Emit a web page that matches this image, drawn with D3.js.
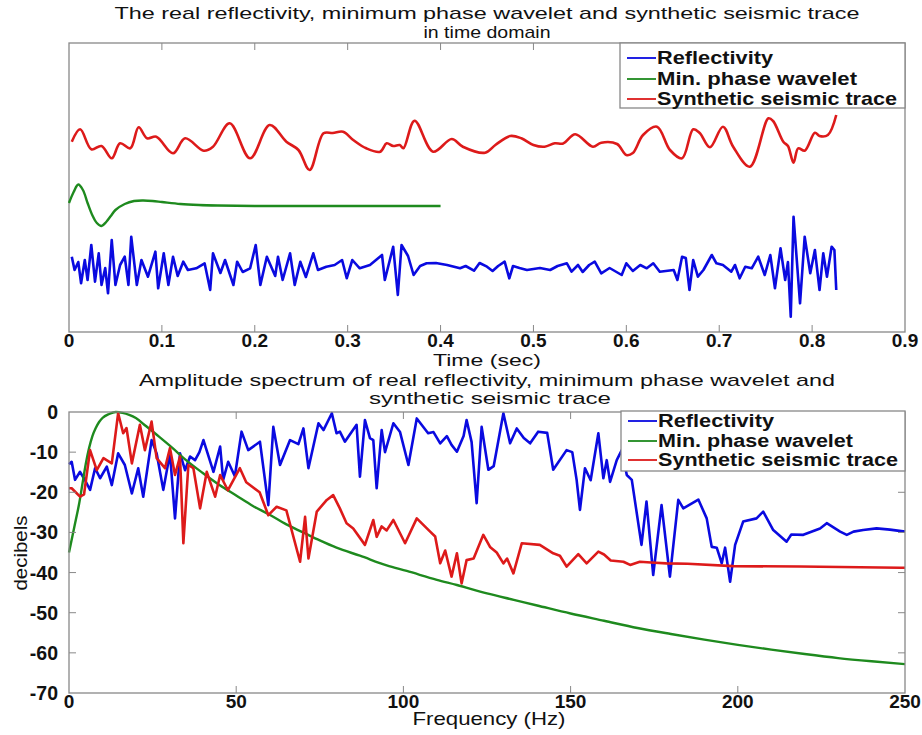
<!DOCTYPE html>
<html><head><meta charset="utf-8">
<script src="https://cdn.jsdelivr.net/npm/d3@7"></script>
<style>body{margin:0;background:#fff}svg{display:block}text{font-family:"Liberation Sans",Arial,sans-serif;fill:#111}</style>
</head><body><svg id="c" width="922" height="735"></svg>
<script>
// ---------- DATA ----------
const timeTicks = [0,0.1,0.2,0.3,0.4,0.5,0.6,0.7,0.8,0.9];
const freqTicks = [0,50,100,150,200,250];
const dbTicks = [0,-10,-20,-30,-40,-50,-60,-70];
const seriesNames = ["Reflectivity","Min. phase wavelet","Synthetic seismic trace"];
const seriesColors = ["#0a0ae0","#1e8a1e","#dd1a1a"];
// trace offsets (display shift of each trace in top panel)
const reflOffset = 6.6, waveletOffset = 12.6, synthOffset = 19.0;
// time-domain reflectivity [t, amplitude]
const reflTime = [[0.003,0.93],[0.006,-0.4],[0.010,0.4],[0.013,-1.73],[0.017,0.6],[0.020,-1.4],[0.024,2.1],[0.028,-1.57],[0.032,1.27],[0.035,-1.9],[0.039,-0.2],[0.042,-2.73],[0.046,2.6],[0.050,-1.9],[0.055,0.1],[0.060,0.93],[0.064,-1.9],[0.067,2.93],[0.073,-1.9],[0.078,0.6],[0.085,-1.07],[0.093,1.43],[0.096,-2.23],[0.102,1.27],[0.107,-1.9],[0.112,0.93],[0.117,-1.0],[0.123,0.43],[0.128,-0.4],[0.137,-0.23],[0.146,0.27],[0.152,-2.4],[0.155,1.27],[0.163,-0.7],[0.168,0.6],[0.177,-1.9],[0.181,0.43],[0.187,-0.6],[0.195,-0.23],[0.201,2.1],[0.206,-1.9],[0.213,0.93],[0.222,-1.0],[0.225,0.93],[0.230,-1.4],[0.238,1.27],[0.243,-1.9],[0.249,0.43],[0.255,-1.1],[0.263,1.27],[0.268,-0.4],[0.277,-0.07],[0.286,0.1],[0.294,0.6],[0.299,-1.23],[0.305,0.6],[0.313,-0.23],[0.324,0.1],[0.337,1.1],[0.340,-1.4],[0.349,1.93],[0.354,-2.9],[0.358,2.1],[0.365,1.0],[0.371,-0.9],[0.378,0.0],[0.385,0.27],[0.395,0.3],[0.407,0.1],[0.421,-0.23],[0.427,0],[0.436,-0.47],[0.442,0.3],[0.450,-0.07],[0.456,-0.5],[0.462,0],[0.469,0.43],[0.474,-1.23],[0.478,0],[0.485,-0.2],[0.493,-0.4],[0.507,-0.2],[0.518,-0.4],[0.526,0],[0.536,0.27],[0.541,-0.57],[0.548,0.1],[0.553,-0.6],[0.560,0.1],[0.566,0.43],[0.573,-0.73],[0.582,-0.2],[0.595,-0.9],[0.600,0.27],[0.607,-0.5],[0.615,0.1],[0.622,-0.23],[0.629,0.27],[0.636,-0.57],[0.651,-0.4],[0.655,-1.4],[0.660,0.93],[0.664,0.8],[0.668,-2.4],[0.672,0.6],[0.677,-1.07],[0.683,-0.4],[0.692,1.1],[0.697,0.27],[0.704,0.1],[0.713,-0.57],[0.717,0.1],[0.722,-1.23],[0.728,-0.07],[0.735,-0.23],[0.742,0.93],[0.749,-0.9],[0.755,1.1],[0.760,-2.23],[0.766,1.77],[0.771,-1.4],[0.774,0.4],[0.777,-5.07],[0.780,4.93],[0.787,-3.73],[0.792,2.93],[0.798,-0.73],[0.803,1.6],[0.808,-2.4],[0.812,1.27],[0.816,-1.07],[0.821,1.93],[0.824,1.6],[0.826,-2.4]];
// time-domain minimum phase wavelet [t, amplitude]
const waveletTime = [[0,0.3],[0.005,1.4],[0.01,2.15],[0.015,1.6],[0.02,0.3],[0.025,-0.9],[0.03,-1.7],[0.035,-2.0],[0.04,-1.6],[0.045,-1.0],[0.05,-0.4],[0.06,0.2],[0.07,0.5],[0.08,0.55],[0.09,0.5],[0.1,0.4],[0.12,0.2],[0.14,0.1],[0.16,0.05],[0.2,0],[0.3,0],[0.4,0]];
// time-domain synthetic trace [t, amplitude]
const synthTime = [[0.003,0.03],[0.012,1.27],[0.024,-0.73],[0.035,-0.4],[0.046,-1.63],[0.055,-0.13],[0.066,-0.63],[0.075,1.47],[0.084,0.37],[0.094,0.53],[0.112,-1.13],[0.125,0.37],[0.145,-0.87],[0.155,-0.47],[0.173,1.87],[0.195,-1.63],[0.216,1.7],[0.234,0.03],[0.247,-0.8],[0.259,-2.8],[0.274,0.87],[0.284,0.9],[0.295,1.03],[0.306,0.2],[0.320,-0.63],[0.335,-0.97],[0.342,-0.13],[0.349,-0.4],[0.356,-0.3],[0.360,-0.63],[0.372,2.13],[0.392,-0.97],[0.412,0.3],[0.424,-0.47],[0.448,-1.07],[0.459,-0.3],[0.475,0.6],[0.487,0.37],[0.500,-0.3],[0.512,-0.47],[0.523,-0.13],[0.532,-0.15],[0.545,0.77],[0.564,-0.47],[0.573,-0.07],[0.590,-0.2],[0.600,-1.3],[0.607,-1.1],[0.618,0.7],[0.633,1.53],[0.647,-0.8],[0.660,-1.63],[0.672,1.27],[0.679,0.9],[0.690,-0.53],[0.704,1.53],[0.715,-0.47],[0.733,-2.47],[0.753,2.37],[0.758,2.1],[0.769,0.03],[0.774,-0.4],[0.780,-2.07],[0.785,-0.63],[0.792,-0.87],[0.803,0.93],[0.808,0.6],[0.817,0.7],[0.826,2.7]];
// amplitude spectra [Hz, dB]
const reflSpec = [[0,-13],[0.8,-12.4],[1.8,-16.9],[3.3,-14.9],[4.8,-17],[6.3,-19.4],[7.8,-14],[9.3,-16.5],[11.3,-13.6],[12.8,-18.2],[14.7,-10.3],[16.7,-13.2],[18.8,-20.3],[20.7,-14],[22.2,-21.1],[24.7,-7],[26.2,-10.3],[28.2,-19.4],[30.2,-10.3],[31.7,-26.5],[33.2,-10.3],[34.7,-14.5],[36.2,-11.1],[37.7,-12],[39,-10],[40.2,-7],[43.2,-14.9],[45.2,-8.6],[46.1,-16.9],[47.6,-12.4],[49.6,-16],[51.6,-4.9],[53.6,-9.5],[57.1,-7.4],[59.6,-23.2],[61.1,-3.7],[63.1,-13.2],[66.1,-7],[68.6,-8],[70.1,-4.1],[71.6,-14],[74.6,-2.8],[76.1,-4.5],[78.6,-0.3],[80,-5.3],[81,-4.9],[82.5,-7.4],[86,-3.2],[87,-16.1],[88.5,-2],[90,-6.5],[91,-7],[92,-19],[93.5,-4.5],[94.5,-10],[97,-2.8],[99,-5],[101.5,-13.2],[104,-1.6],[107.4,-5.3],[109,-5],[111,-7.8],[113,-6],[114.4,-8.2],[116,-9.9],[118,-6],[118.9,-2],[120.4,-7.5],[121.9,-22.7],[123.4,-3.7],[125.4,-14.4],[127,-13.5],[129.9,-0.3],[131.9,-7.8],[133.9,-4.1],[136,-6.5],[137.9,-7.8],[140.3,-4.9],[143,-5.2],[144.8,-14.4],[148.8,-9.5],[150.5,-10],[151.8,-16.9],[152.8,-24.4],[154.3,-14],[156,-17],[158.3,-5.3],[159.8,-16.5],[160.8,-12],[161.8,-17.4],[163.8,-12],[165.3,-9.5],[166.8,-15.7],[168.3,-16.9],[171.2,-33.1],[172.7,-22.3],[174.7,-40.6],[177.2,-23.2],[179.7,-41],[182.2,-21.9],[183.7,-24],[188.2,-21.8],[190.7,-26.5],[192.2,-33.6],[193.7,-33.8],[195.2,-37.7],[196.2,-33.8],[197.7,-42.3],[199.2,-33.1],[201.6,-27.3],[205.6,-26.5],[207.6,-24.8],[210.6,-29.4],[214.6,-32.3],[216,-30.5],[219.6,-30.6],[224.6,-29],[226.6,-27.7],[230.6,-29.8],[232.6,-30.6],[234.6,-29.8],[237.5,-29.4],[241.5,-29],[245.5,-29.3],[250,-29.8]];
const waveletSpec = [[0,-35],[1,-31],[2,-27],[3,-23],[4,-18],[5,-13],[6,-9],[7,-6],[8,-4],[9,-2.5],[10,-1.5],[12,-0.5],[14,0],[16,-0.2],[18,-0.7],[20,-1.5],[23,-3.5],[27,-6.2],[31,-9],[35,-12],[40,-15.2],[45,-18.2],[50,-20.8],[55,-23.4],[60,-25.6],[65,-28],[70,-30],[75,-32],[80,-33.8],[87,-35.8],[95,-38.2],[101,-39.6],[110,-41.8],[116,-43.1],[125,-45.2],[133,-46.8],[140,-48.2],[150,-50.2],[160,-52],[170,-53.8],[180,-55.3],[190,-56.7],[200,-58],[210,-59.2],[220,-60.3],[230,-61.3],[240,-62.1],[250,-62.8]];
const synthSpec = [[0,-19],[0.8,-19],[3.3,-21.1],[4.5,-20.5],[6.3,-9.5],[8.3,-14.5],[10.3,-11.5],[12.8,-12.8],[14.7,-0.3],[16.2,-5.3],[17.2,-4],[18.8,-12.8],[21.2,-3.2],[22.7,-9.5],[24.7,-2.4],[26.2,-11.5],[28.7,-14],[30.2,-9],[31.7,-15.7],[33.2,-11.1],[34.2,-32.7],[35.7,-13.2],[37.2,-14],[39.2,-24],[41.2,-14.9],[43.7,-21.1],[45.2,-15.7],[47.5,-19.5],[51.1,-14],[53,-17.5],[57,-20],[59.6,-25.7],[62.1,-23.6],[65,-24.5],[69.1,-37.3],[70.6,-26.1],[71.6,-36.5],[74.1,-24.8],[77.1,-21.9],[79,-20.7],[81,-24],[83,-27.7],[85,-29],[88.5,-33.1],[91,-26.9],[92,-31.1],[93.5,-28.5],[95,-29.5],[97,-26.9],[100.5,-32.7],[104,-26.5],[108,-29.8],[109.5,-31],[111,-37.7],[112.5,-34.5],[114.4,-41],[116,-35.2],[117.4,-42.7],[118.9,-36.9],[121,-36.5],[123.9,-30.6],[125.9,-33.6],[127.9,-35],[129.9,-37.7],[131,-36.5],[132.9,-40.2],[135.4,-32.7],[140.8,-33.1],[144.8,-35.2],[146.8,-35.8],[148.8,-38.5],[152.3,-35.4],[154.8,-37.7],[158.3,-34.8],[160,-35.5],[162,-37],[165.8,-37.3],[167.8,-38.1],[170.7,-37.3],[174,-37.5],[178.7,-37.7],[185,-37.8],[198.6,-38.4],[218.6,-38.5],[248.5,-38.8],[250,-38.8]];

// ---------- DRAW ----------
const svg = d3.select("#c");
const L = 69, R = 905;
const axisColor = "#888";

const xT = d3.scaleLinear().domain([0,0.9]).range([L,R]);
const yT = d3.scaleLinear().domain([0,28.9]).range([332,43]);
const xF = d3.scaleLinear().domain([0,250]).range([L,R]);
const yF = d3.scaleLinear().domain([-70,0]).range([693,412]);

function txt(x, y, s, size, opts = {}) {
  const t = svg.append("text").attr("x",x).attr("y",y).style("font-size",size+"px")
    .style("font-weight", opts.weight || "bold").text(s);
  if (opts.anchor) t.attr("text-anchor",opts.anchor);
  if (opts.width) t.attr("textLength",opts.width).attr("lengthAdjust","spacingAndGlyphs");
  if (opts.transform) t.attr("transform",opts.transform);
  return t;
}

function frame(x, y, xt, yt, fmtX, fmtY) {
  const g = svg.append("g");
  const [y0,y1] = y.range();
  g.append("rect").attr("x",L).attr("y",y1).attr("width",R-L).attr("height",y0-y1)
    .attr("fill","none").attr("stroke",axisColor).attr("stroke-width",1.3);
  const tl = 7;
  xt.forEach(v => {
    const px = x(v);
    if (v !== x.domain()[0] && v !== x.domain()[1]) {
      g.append("line").attr("x1",px).attr("x2",px).attr("y1",y0).attr("y2",y0-tl).attr("stroke",axisColor);
      g.append("line").attr("x1",px).attr("x2",px).attr("y1",y1).attr("y2",y1+tl).attr("stroke",axisColor);
    }
    txt(px, y0+14.5, fmtX(v), 19, {anchor:"middle"});
  });
  if (yt) yt.forEach(v => {
    const py = y(v);
    if (v !== y.domain()[0] && v !== y.domain()[1]) {
      g.append("line").attr("x1",L).attr("x2",L+tl).attr("y1",py).attr("y2",py).attr("stroke",axisColor);
      g.append("line").attr("x1",R).attr("x2",R-tl).attr("y1",py).attr("y2",py).attr("stroke",axisColor);
    }
    txt(L-11, py+7, fmtY(v), 19.5, {anchor:"end"});
  });
}

function legend(x0, y0, w, h, rows, widths, size) {
  const g = svg.append("g");
  g.append("rect").attr("x",x0).attr("y",y0).attr("width",w).attr("height",h)
    .attr("fill","#fff").attr("stroke",axisColor).attr("stroke-width",1.3);
  rows.forEach((ry,i) => {
    g.append("line").attr("x1",x0+7).attr("x2",x0+36).attr("y1",ry).attr("y2",ry)
      .attr("stroke",seriesColors[i]).attr("stroke-width",1.8);
    txt(x0+37, ry+6, seriesNames[i], size, {width: widths[i]});
  });
}

// ---- top panel ----
frame(xT, yT, timeTicks, null, d => d3.format("")(d), null);
const lineT = (off) => d3.line().x(d => xT(d[0])).y(d => yT(d[1]+off));
svg.append("path").datum(reflTime).attr("d", lineT(reflOffset).curve(d3.curveLinear))
  .attr("fill","none").attr("stroke",seriesColors[0]).attr("stroke-width",2.6).attr("stroke-linejoin","round");
svg.append("path").datum(waveletTime).attr("d", lineT(waveletOffset).curve(d3.curveCatmullRom))
  .attr("fill","none").attr("stroke",seriesColors[1]).attr("stroke-width",2.4);
svg.append("path").datum(synthTime).attr("d", lineT(synthOffset).curve(d3.curveCatmullRom))
  .attr("fill","none").attr("stroke",seriesColors[2]).attr("stroke-width",2.6);
legend(620, 43, 285, 65, [58, 79, 99], [116, 200, 240], 19);
txt(487, 19, "The real reflectivity, minimum phase wavelet and synthetic seismic trace", 17, {anchor:"middle", weight:"normal", width:745});
txt(487, 38, "in time domain", 17, {anchor:"middle", weight:"normal", width:127});
txt(487, 365.5, "Time (sec)", 17, {anchor:"middle", weight:"normal", width:108});

// ---- bottom panel ----
const lineF = d3.line().x(d => xF(d[0])).y(d => yF(d[1]));
svg.append("path").datum(reflSpec).attr("d", lineF)
  .attr("fill","none").attr("stroke",seriesColors[0]).attr("stroke-width",2.6).attr("stroke-linejoin","round");
svg.append("path").datum(waveletSpec).attr("d", d3.line().x(d => xF(d[0])).y(d => yF(d[1])).curve(d3.curveMonotoneX))
  .attr("fill","none").attr("stroke",seriesColors[1]).attr("stroke-width",2.4);
svg.append("path").datum(synthSpec).attr("d", lineF)
  .attr("fill","none").attr("stroke",seriesColors[2]).attr("stroke-width",2.6).attr("stroke-linejoin","round");
frame(xF, yF, freqTicks, dbTicks, d => d, d => d);
legend(621, 411, 284, 60, [421, 441, 460], [116, 195, 240], 17.5);
txt(487, 386, "Amplitude spectrum of real reflectivity, minimum phase wavelet and", 17, {anchor:"middle", weight:"normal", width:696});
txt(490, 404, "synthetic seismic trace", 17, {anchor:"middle", weight:"normal", width:242});
txt(489, 725, "Frequency (Hz)", 18.5, {anchor:"middle", weight:"normal", width:153});
txt(0, 0, "decibels", 18.5, {anchor:"middle", weight:"normal", width:75, transform:"translate(27,553) rotate(-90)"});
</script></body></html>
